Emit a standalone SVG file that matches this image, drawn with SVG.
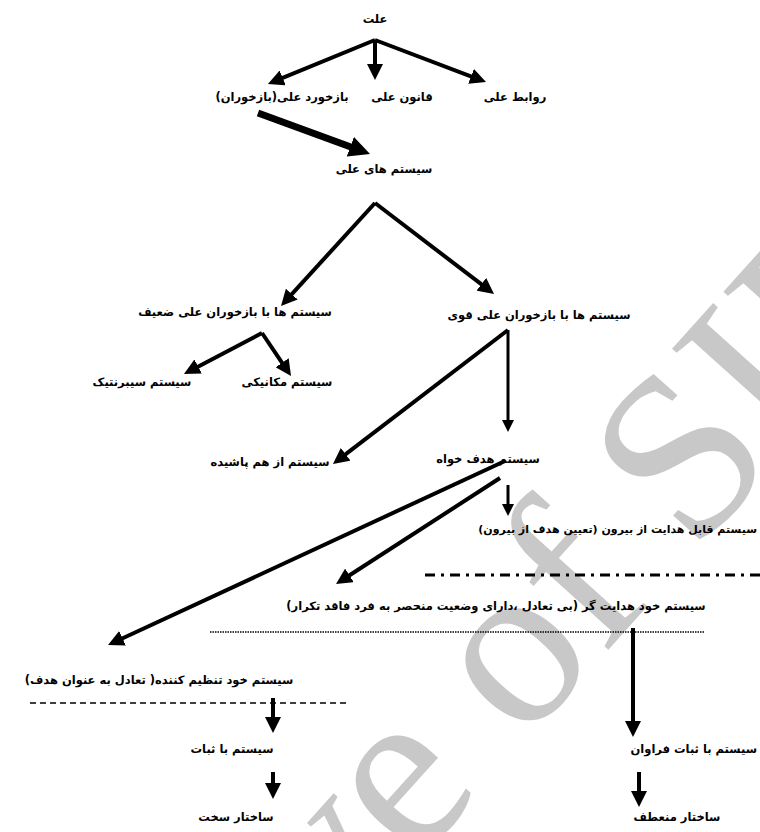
<svg xmlns="http://www.w3.org/2000/svg" width="760" height="832" viewBox="0 0 760 832">
<style>
.t{font-family:"DejaVu Sans",sans-serif;font-size:11.5px;font-weight:bold;fill:#000;direction:rtl;text-anchor:middle}
.ts{font-family:"DejaVu Sans",sans-serif;font-size:11.5px;font-weight:bold;fill:#000;direction:rtl;text-anchor:start}
.c{stroke:#000;fill:none;stroke-linecap:butt;stroke-linejoin:miter}
.w4{stroke-width:4;marker-end:url(#ah)}
.w3{stroke-width:3;marker-end:url(#ah)}
.wb{stroke-width:7;marker-end:url(#ahb)}
.wm{font-family:"Liberation Serif",serif;font-size:235px;fill:#c8c8c8}
</style>
<defs>
<marker id="ah" markerUnits="strokeWidth" markerWidth="4" markerHeight="4" refX="1" refY="2" orient="auto"><path d="M0,0 L4,2 L0,4 z" fill="#000"/></marker>
<marker id="ahb" markerUnits="strokeWidth" markerWidth="3" markerHeight="3" refX="0.5" refY="1.5" orient="auto"><path d="M0,0 L3,1.5 L0,3 z" fill="#000"/></marker>
</defs>
<rect width="760" height="832" fill="#fff"/>
<g id="watermark"><text class="wm" x="462" y="812" text-anchor="middle" transform="rotate(-48 462 812)">Archive of SID</text></g>
<g id="connectors">
<line class="c w4" x1="375" y1="40" x2="279" y2="79.4"/>
<line class="c w4" x1="375" y1="40" x2="375" y2="68"/>
<line class="c w4" x1="375" y1="40" x2="474.8" y2="77.8"/>
<line class="c wb" x1="258" y1="113" x2="353.6" y2="148"/>
<line class="c w4" x1="375" y1="203" x2="289.1" y2="297.1"/>
<line class="c w4" x1="375" y1="203" x2="484.5" y2="286.7"/>
<line class="c w4" x1="262" y1="333" x2="194.6" y2="368.4"/>
<line class="c w4" x1="262" y1="333" x2="284.3" y2="366.1"/>
<line class="c w3" x1="508" y1="330" x2="508" y2="423"/>
<line class="c w4" x1="508" y1="330" x2="342.5" y2="456.7"/>
<line class="c w4" x1="505" y1="461" x2="118.9" y2="640"/>
<line class="c w4" x1="500" y1="478" x2="346.1" y2="577.5"/>
<line class="c w3" x1="508" y1="485" x2="508" y2="507"/>
<line class="c w4" x1="633" y1="628" x2="633" y2="725"/>
<line class="c w4" x1="273" y1="698" x2="273" y2="721"/>
<line class="c w4" x1="273" y1="772" x2="273" y2="787"/>
<line class="c w4" x1="639" y1="772" x2="639" y2="795"/>
<line class="c" x1="425" y1="575" x2="760" y2="575" stroke-width="3" stroke-dasharray="10,6,3,6"/>
<line class="c" x1="210" y1="632" x2="705" y2="632" stroke-width="1.5" stroke-dasharray="1.5,1"/>
<line class="c" x1="30" y1="703" x2="346" y2="703" stroke-width="1.5" stroke-dasharray="6,4"/>
</g>
<g id="n-elat"><text class="t" x="375" y="23">علت</text></g>
<g id="n-bazkhord"><text class="t" x="282" y="101">بازخورد علی(بازخوران)</text></g>
<g id="n-ghanoon"><text class="t" x="402" y="101">قانون علی</text></g>
<g id="n-ravabet"><text class="t" x="515" y="101">روابط علی</text></g>
<g id="n-systemha"><text class="t" x="384" y="173">سیستم های علی</text></g>
<g id="n-zaeef"><text class="t" x="235" y="316">سیستم ها با بازخوران علی ضعیف</text></g>
<g id="n-ghavi"><text class="t" x="539" y="319">سیستم ها با بازخوران علی قوی</text></g>
<g id="n-cybernetic"><text class="t" x="142" y="386">سیستم سیبرنتیک</text></g>
<g id="n-mechanic"><text class="t" x="287" y="386">سیستم مکانیکی</text></g>
<g id="n-foroopashide"><text class="t" x="270" y="466">سیستم از هم پاشیده</text></g>
<g id="n-hadafkhah"><text class="t" x="488" y="463">سیستم هدف خواه</text></g>
<g id="n-ghabel"><text class="ts" x="757" y="533" style="font-size:11px">سیستم قابل هدایت از بیرون (تعیین هدف از بیرون)</text></g>
<g id="n-khodhedayat"><text class="t" x="496" y="610">سیستم خود هدایت گر (بی تعادل ،دارای وضعیت منحصر به فرد فاقد تکرار)</text></g>
<g id="n-khodtanzim"><text class="t" x="159" y="684">سیستم خود تنظیم کننده( تعادل به عنوان هدف)</text></g>
<g id="n-sabat"><text class="t" x="232" y="753">سیستم با ثبات</text></g>
<g id="n-sakht"><text class="t" x="236" y="821">ساختار سخت</text></g>
<g id="n-faravan"><text class="ts" x="757" y="753">سیستم با ثبات فراوان</text></g>
<g id="n-monataf"><text class="t" x="677" y="821">ساختار منعطف</text></g>
</svg>
